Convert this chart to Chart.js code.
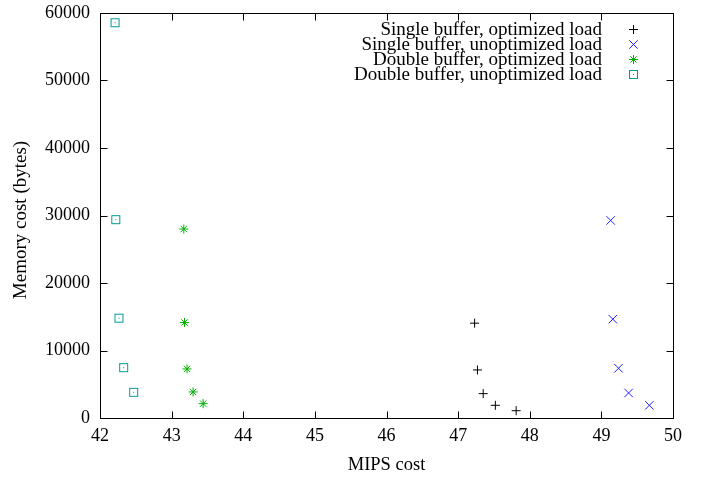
<!DOCTYPE html>
<html>
<head>
<meta charset="utf-8">
<script src="https://cdn.jsdelivr.net/npm/chart.js@4/dist/chart.umd.min.js"></script>
<style>
html,body{margin:0;padding:0;background:#fff;}
#c{display:block;}
</style>
</head>
<body>
<canvas id="c" width="702" height="477"></canvas>
<script>
// ---- data ----
const seriesNames = [
  "Single buffer, optimized load",
  "Single buffer, unoptimized load",
  "Double buffer, optimized load",
  "Double buffer, unoptimized load"
];
const singleOptX   = [47.23, 47.27, 47.35, 47.52, 47.81];
const singleOptY   = [14050, 7120, 3610, 1880, 1080];
const singleUnoptX = [49.13, 49.16, 49.24, 49.38, 49.67];
const singleUnoptY = [29270, 14640, 7370, 3710, 1880];
const doubleOptX   = [43.17, 43.18, 43.215, 43.30, 43.44];
const doubleOptY   = [28000, 14140, 7270, 3860, 2120];
const doubleUnoptX = [42.21, 42.22, 42.265, 42.33, 42.47];
const doubleUnoptY = [58560, 29380, 14790, 7460, 3810];
const xTicks = [42, 43, 44, 45, 46, 47, 48, 49, 50];
const yTicks = [0, 10000, 20000, 30000, 40000, 50000, 60000];
const xTitle = "MIPS cost";
const yTitle = "Memory cost (bytes)";

const FONT = "'Liberation Serif', 'DejaVu Serif', serif";
const colors = ["#000000", "#2020ff", "#00b000", "#009a9a"];

function pts(xs, ys){ return xs.map((x,i)=>({x:x, y:ys[i]})); }

// box-with-dot marker
const boxImg = document.createElement('canvas');
boxImg.width = 11; boxImg.height = 11;
(function(){
  const g = boxImg.getContext('2d');
  g.strokeStyle = colors[3]; g.lineWidth = 1;
  g.strokeRect(1.5, 1.5, 8, 8);
  g.fillStyle = colors[3];
  g.fillRect(5, 5, 1, 1);
})();

const styles = [
  {pointStyle:'cross', radius:4.5},
  {pointStyle:'crossRot', radius:6},
  {pointStyle:'star', radius:4.5},
  {pointStyle:boxImg, radius:5}
];
const dataSets = [pts(singleOptX,singleOptY), pts(singleUnoptX,singleUnoptY), pts(doubleOptX,doubleOptY), pts(doubleUnoptX,doubleUnoptY)];

const datasets = dataSets.map((d,i)=>({
  label: seriesNames[i],
  data: d,
  showLine: false,
  borderColor: colors[i],
  backgroundColor: colors[i],
  pointStyle: styles[i].pointStyle,
  pointRadius: styles[i].radius,
  pointHoverRadius: styles[i].radius,
  pointBorderWidth: 1
}));

function drawMarker(ctx, i, x, y){
  ctx.save();
  ctx.strokeStyle = colors[i]; ctx.lineWidth = 1;
  ctx.beginPath();
  if (i === 0) {
    const r = 4.5;
    ctx.moveTo(x-r, y); ctx.lineTo(x+r, y);
    ctx.moveTo(x, y-r); ctx.lineTo(x, y+r);
    ctx.stroke();
  } else if (i === 1) {
    const r = 4.2;
    ctx.moveTo(x-r, y-r); ctx.lineTo(x+r, y+r);
    ctx.moveTo(x-r, y+r); ctx.lineTo(x+r, y-r);
    ctx.stroke();
  } else if (i === 2) {
    const r = 4.5, d = r*Math.SQRT1_2;
    ctx.moveTo(x-r, y); ctx.lineTo(x+r, y);
    ctx.moveTo(x, y-r); ctx.lineTo(x, y+r);
    ctx.moveTo(x-d, y-d); ctx.lineTo(x+d, y+d);
    ctx.moveTo(x-d, y+d); ctx.lineTo(x+d, y-d);
    ctx.stroke();
  } else {
    ctx.drawImage(boxImg, Math.round(x-5.5), Math.round(y-5.5));
  }
  ctx.restore();
}

const framePlugin = {
  id: 'frame',
  afterDraw(chart){
    const ctx = chart.ctx, a = chart.chartArea;
    const xs = chart.scales.x, ys = chart.scales.y;
    ctx.save();
    ctx.strokeStyle = '#000'; ctx.lineWidth = 1;
    const L = Math.round(a.left)+0.5, R = Math.round(a.right)+0.5, T = Math.round(a.top)+0.5, B = Math.round(a.bottom)+0.5;
    ctx.strokeRect(L, T, R-L, B-T);
    const tl = 7;
    ctx.beginPath();
    xTicks.forEach(v=>{
      const px = Math.round(xs.getPixelForValue(v))+0.5;
      ctx.moveTo(px, B); ctx.lineTo(px, B-tl);
      ctx.moveTo(px, T); ctx.lineTo(px, T+tl);
    });
    yTicks.forEach(v=>{
      const py = Math.round(ys.getPixelForValue(v))+0.5;
      ctx.moveTo(L, py); ctx.lineTo(L+tl, py);
      ctx.moveTo(R, py); ctx.lineTo(R-tl, py);
    });
    ctx.stroke();

    // axis titles
    ctx.fillStyle = '#000';
    ctx.font = "18.5px " + FONT;
    ctx.textAlign = 'center'; ctx.textBaseline = 'middle';
    ctx.fillText(xTitle, (a.left+a.right)/2, 465);
    ctx.save();
    ctx.font = "19px " + FONT;
    ctx.translate(21, 220);
    ctx.rotate(-Math.PI/2);
    ctx.fillText(yTitle, 0, 0);
    ctx.restore();

    // legend (text right aligned, marker to the right)
    ctx.font = "19px " + FONT;
    ctx.textAlign = 'right'; ctx.textBaseline = 'middle';
    const rowY = [29.5, 44.5, 59.5, 74.5];
    seriesNames.forEach((n,i)=>{
      ctx.fillStyle = '#000';
      ctx.fillText(n, 602, rowY[i]+1);
      drawMarker(ctx, i, 633.5, rowY[i]);
    });
    ctx.restore();
  }
};

new Chart(document.getElementById('c'), {
  type: 'scatter',
  data: { datasets },
  options: {
    responsive: false,
    animation: false,
    devicePixelRatio: 1,
    layout: { padding: { top: 13, right: 29, left: 0, bottom: 0 } },
    plugins: { legend: { display: false }, tooltip: { enabled: false } },
    scales: {
      x: {
        type: 'linear', min: 42, max: 50,
        afterFit(s){ s.height = 59; s.paddingLeft = 0; s.paddingRight = 0; },
        afterBuildTicks(s){ s.ticks = xTicks.map(v=>({value:v})); },
        grid: { display: false, drawTicks: false },
        border: { display: false },
        ticks: { color: '#000', font: { family: FONT, size: 18 }, padding: 7, maxRotation: 0, callback: v => String(v) }
      },
      y: {
        type: 'linear', min: 0, max: 60000,
        afterFit(s){ s.width = 100; s.paddingTop = 0; s.paddingBottom = 0; },
        afterBuildTicks(s){ s.ticks = yTicks.map(v=>({value:v})); },
        grid: { display: false, drawTicks: false },
        border: { display: false },
        ticks: { color: '#000', font: { family: FONT, size: 18 }, padding: 10, callback: v => String(v) }
      }
    }
  },
  plugins: [framePlugin]
});
</script>
</body>
</html>
